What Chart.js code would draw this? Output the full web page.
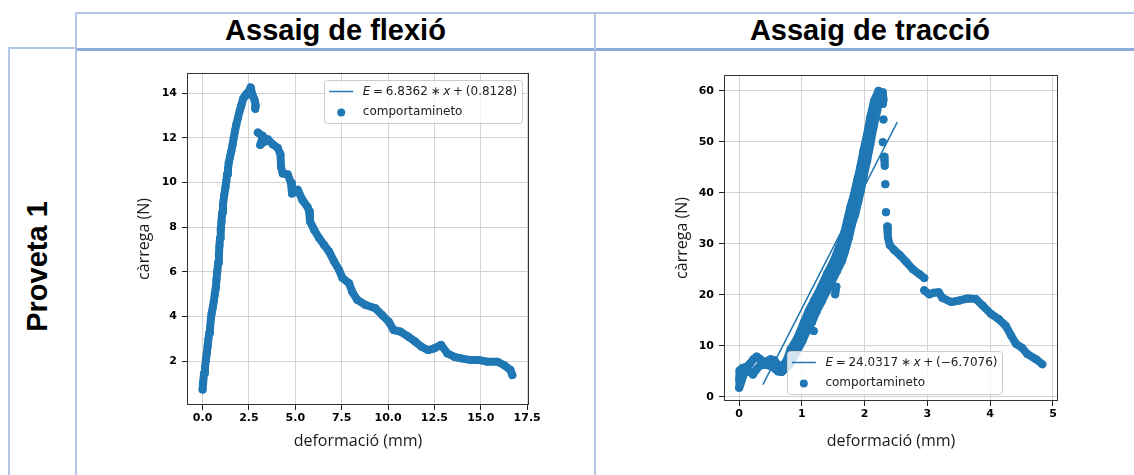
<!DOCTYPE html>
<html>
<head>
<meta charset="utf-8">
<script src="https://cdn.jsdelivr.net/npm/chart.js@4.4.1/dist/chart.umd.min.js"></script>
<style>
  body { margin: 0; width: 1134px; height: 475px; overflow: hidden; background: #fff; position: relative; font-family: "Liberation Sans", Arial, sans-serif; }
  .ln { position: absolute; background: #b4c6e7; }
  .hd { position: absolute; font-weight: bold; font-size: 29px; line-height: 33px; text-align: center; color: #000; white-space: nowrap; }
  canvas { position: absolute; }
</style>
</head>
<body>
<!-- table grid -->
<div class="ln" style="left:75px;top:12px;width:1059px;height:2px"></div>
<div class="ln" style="left:75px;top:48px;width:1059px;height:3px;background:#8eaadb"></div>
<div class="ln" style="left:8px;top:47px;width:68px;height:2px"></div>
<div class="ln" style="left:8px;top:47px;width:2px;height:428px"></div>
<div class="ln" style="left:75px;top:12px;width:2px;height:463px"></div>
<div class="ln" style="left:594px;top:12px;width:2px;height:463px"></div>

<div class="hd" style="left:77px;top:14px;width:517px">Assaig de flexió</div>
<div class="hd" style="left:596px;top:14px;width:548px">Assaig de tracció</div>
<div class="hd" style="left:-63px;top:250px;width:200px;transform:rotate(-90deg)">Proveta 1</div>

<canvas id="flexio" width="440" height="410" style="left:120px;top:60px"></canvas>
<canvas id="traccio" width="440" height="410" style="left:640px;top:60px"></canvas>

<script>
// ---- Assaig de flexió: deformació (mm) / càrrega (N) ----
const flexX = [
  0.00, 0.03, 0.08, 0.13, 0.18, 0.22, 0.27, 0.31, 0.36, 0.40,
  0.45, 0.49, 0.55, 0.61, 0.66, 0.71, 0.75, 0.79, 0.84, 0.88,
  0.91, 0.94, 0.98, 1.02, 1.06, 1.10, 1.16, 1.23, 1.28, 1.32,
  1.37, 1.41, 1.48, 1.55, 1.62, 1.68, 1.75, 1.82, 1.91, 2.00,
  2.09, 2.18, 2.27, 2.36, 2.48, 2.59, 2.72, 2.80, 2.86, 2.84,
  2.90, 2.98, 3.25, 3.11, 3.52, 3.79, 4.05, 4.20, 4.23, 4.32,
  4.59, 4.77, 4.82, 5.13, 5.39, 5.66, 5.75, 5.79, 6.02, 6.29,
  6.55, 6.82, 7.09, 7.36, 7.54, 7.90, 8.07, 8.34, 8.79, 9.32,
  9.68, 10.04, 10.30, 10.66, 11.10, 11.46, 11.80, 12.16, 12.50, 12.86,
  13.20, 13.57, 13.93, 14.46, 14.90, 15.36, 15.90, 16.25, 16.60, 16.70
];
const flexY = [
  0.72, 1.05, 1.45, 1.70, 2.05, 2.30, 2.65, 2.95, 3.25, 3.45,
  3.90, 4.15, 4.40, 4.70, 5.00, 5.27, 5.65, 6.00, 6.40, 6.80,
  7.15, 7.50, 7.90, 8.26, 8.65, 9.00, 9.40, 9.76, 10.05, 10.36,
  10.60, 10.88, 11.15, 11.40, 11.70, 12.00, 12.30, 12.60, 12.90, 13.20,
  13.45, 13.73, 13.85, 13.96, 14.05, 14.25, 13.85, 13.70, 13.45, 13.30,
  null, 12.23, 12.08, 11.68, 11.93, 11.70, 11.55, 11.25, 10.70, 10.40,
  10.36, 9.97, 9.50, 9.67, 9.20, 8.90, 8.70, 8.26, 7.87, 7.50,
  7.20, 6.90, 6.46, 6.08, 5.72, 5.48, 5.10, 4.74, 4.51, 4.36,
  4.06, 3.76, 3.39, 3.32, 3.09, 2.87, 2.64, 2.49, 2.57, 2.72,
  2.34, 2.19, 2.12, 2.04, 2.04, 1.97, 1.97, 1.82, 1.60, 1.37
];
const flexFitX = [0.00, 0.75];
const flexFitY = [0.81, 5.94];
const flexXTicks = [0, 2.5, 5, 7.5, 10, 12.5, 15, 17.5];
const flexYTicks = [2, 4, 6, 8, 10, 12, 14];

// ---- Assaig de tracció ----
const tracX = [
  0.00, 0.00, 0.01, 0.06, 0.12, 0.18, 0.23, 0.28, 0.33, 0.38,
  0.44, 0.50, 0.56, 0.61, 0.66, 0.71, 0.76, 0.82, 0.93, 1.03,
  1.11, 1.19, 1.30, 1.40, 1.51, 1.59, 1.67, 1.72, 1.77, 1.83,
  1.88, 1.93, 1.98, 2.04, 2.09, 2.15, 2.22, 2.26, 2.26, 0.02,
  0.08, 0.15, 0.22, 0.27, 0.34, 0.44, 0.54, 0.62, 0.68, 0.74,
  0.82, 0.90, 1.01, 1.08, 1.16, 1.24, 1.32, 1.40, 1.48, 1.56,
  1.64, 1.69, 1.75, 1.80, 1.85, 1.90, 1.94, 1.98, 2.04, 2.09,
  2.14, 2.20, 2.25, 2.29, 2.30, 2.29, 2.29, 1.19, 1.19, 1.53,
  1.55, 1.55, 2.30, 2.30, 2.29, 2.29, 2.31, 2.32, 2.32, 2.33,
  2.33, 2.34, 2.34, 2.36, 2.37, 2.40, 2.47, 2.56, 2.66, 2.77,
  2.87, 2.95, 2.95, 2.95, 3.03, 3.10, 3.18, 3.24, 3.38, 3.51,
  3.64, 3.77, 3.88, 4.01, 4.14, 4.25, 4.33, 4.41, 4.51, 4.59,
  4.73, 4.83
];
const tracY = [
  1.80, 3.50, 5.20, 5.70, 5.90, 6.60, 7.40, 7.90, 7.50, 6.90,
  7.00, 7.40, 7.20, 6.40, 5.60, 6.30, 7.20, 9.35, 11.60, 14.60,
  16.90, 18.80, 21.40, 24.10, 26.70, 29.30, 31.90, 34.50, 37.10, 39.70,
  42.40, 45.00, 48.20, 51.50, 54.80, 58.00, 60.00, 59.00, null, 2.40,
  4.60, 5.20, 4.40, 5.30, 6.20, 6.30, 5.80, 5.00, 4.90, 5.50,
  6.60, 8.40, 11.00, 12.90, 14.60, 16.90, 18.80, 20.80, 22.70, 24.70,
  26.70, 28.60, 31.20, 33.90, 35.80, 38.40, 40.40, 43.00, 46.30, 49.50,
  52.80, 56.10, 58.70, 59.70, 58.30, 57.40, null, 12.90, null, 20.10,
  21.60, null, 54.40, null, 49.90, null, 47.10, 45.30, null, 41.70,
  null, 36.20, null, 33.40, 31.30, 29.80, 28.80, 27.80, 26.50, 25.00,
  24.10, 23.30, null, 20.90, 20.10, 20.40, 20.50, 19.40, 18.60, 18.90,
  19.30, 19.20, 17.90, 16.30, 15.20, 13.90, 12.10, 10.40, 9.60, 8.40,
  7.40, 6.40
];
const tracFitX = [0.38, 2.52];
const tracFitY = [2.42, 53.85];
const tracXTicks = [0, 1, 2, 3, 4, 5];
const tracYTicks = [0, 10, 20, 30, 40, 50, 60];

const BLUE = '#1f77b4';
const tickFont = { family: '"DejaVu Sans"', size: 11, weight: 'bold' };
const titleFont = { family: '"Open Sans"', size: 16 };

// legend text pieces (mathtext-like), italic parts flagged
const legendCfg = {
  flexio: { corner: 'ne', dx: 7, dy: 7,
    eq: [['E', 1], ['=', 0], ['6.8362', 0], ['\u2217', 0], ['x', 1], ['+', 0], ['(0.8128)', 0]] },
  traccio: { corner: 'sw', dx: 63, dy: 7,
    eq: [['E', 1], ['=', 0], ['24.0317', 0], ['\u2217', 0], ['x', 1], ['+', 0], ['(\u22126.7076)', 0]] }
};

function pts(xs, ys) { return xs.map((x, i) => ({ x: x, y: ys[i] })); }

const framePlugin = {
  id: 'frameLegend',
  afterDraw(chart) {
    const ctx = chart.ctx, a = chart.chartArea;
    ctx.save();
    // full box round the plot, like matplotlib spines
    ctx.strokeStyle = '#333';
    ctx.lineWidth = 1;
    ctx.strokeRect(Math.round(a.left) + 0.5, Math.round(a.top) + 0.5,
      Math.round(a.right - a.left) - 1, Math.round(a.bottom - a.top) - 1);

    const cfg = legendCfg[chart.canvas.id];
    const fs = 12, gap = 2.7;
    let w = 0;
    cfg.eq.forEach(p => {
      ctx.font = (p[1] ? 'italic ' : '') + fs + 'px "DejaVu Sans"';
      w += ctx.measureText(p[0]).width;
    });
    w += gap * (cfg.eq.length - 1);
    const bw = 43.2 + w, bh = 43;
    const bx = cfg.corner === 'ne' ? a.right - cfg.dx - bw : a.left + cfg.dx;
    const by = cfg.corner === 'ne' ? a.top + cfg.dy : a.bottom - cfg.dy - bh;

    ctx.beginPath();
    ctx.roundRect(Math.round(bx) + 0.5, Math.round(by) + 0.5, Math.round(bw), Math.round(bh), 3);
    ctx.fillStyle = 'rgba(255,255,255,0.8)';
    ctx.fill();
    ctx.strokeStyle = '#cccccc';
    ctx.stroke();

    ctx.strokeStyle = BLUE;
    ctx.lineWidth = 1.5;
    ctx.beginPath();
    ctx.moveTo(bx + 4.8, by + 11.5);
    ctx.lineTo(bx + 28.8, by + 11.5);
    ctx.stroke();
    ctx.fillStyle = BLUE;
    ctx.beginPath();
    ctx.arc(bx + 16.8, by + 32.5, 4, 0, Math.PI * 2);
    ctx.fill();

    ctx.fillStyle = '#222';
    ctx.textBaseline = 'middle';
    ctx.textAlign = 'left';
    let tx = bx + 38.4;
    cfg.eq.forEach(p => {
      ctx.font = (p[1] ? 'italic ' : '') + fs + 'px "DejaVu Sans"';
      ctx.fillText(p[0], tx, by + 12);
      tx += ctx.measureText(p[0]).width + gap;
    });
    ctx.font = fs + 'px "DejaVu Sans"';
    ctx.fillText('comportamineto', bx + 38.4, by + 32);
    ctx.restore();
  }
};

function makeChart(id, o) {
  return new Chart(document.getElementById(id), {
    type: 'scatter',
    data: {
      datasets: [
        { label: 'fit', data: pts(o.fitX, o.fitY), showLine: true, borderColor: BLUE, borderWidth: 1.5,
          pointRadius: 0, fill: false },
        { label: 'comportamineto', data: pts(o.xs, o.ys), showLine: true, spanGaps: false,
          borderColor: BLUE, borderWidth: 8, borderCapStyle: 'round', borderJoinStyle: 'round',
          pointRadius: 4, pointHoverRadius: 4, pointBorderWidth: 0, pointBackgroundColor: BLUE, fill: false }
      ]
    },
    options: {
      responsive: false, animation: false, devicePixelRatio: 1,
      layout: { padding: o.pad },
      plugins: { legend: { display: false }, tooltip: { enabled: false } },
      scales: {
        x: {
          type: 'linear', min: o.xMin, max: o.xMax,
          afterBuildTicks: s => { s.ticks = o.xTicks.map(v => ({ value: v })); },
          afterFit: s => { s.height = o.xH; },
          grid: { color: '#d3d3d3', tickColor: '#222', tickLength: 5 },
          border: { display: false },
          ticks: { font: tickFont, color: '#000', padding: 2, maxRotation: 0, autoSkip: false, callback: o.xFmt },
          title: { display: true, text: 'deformació (mm)', font: titleFont, color: '#1a1a1a', padding: { top: 0, bottom: 18.7 } }
        },
        y: {
          type: 'linear', min: o.yMin, max: o.yMax,
          afterBuildTicks: s => { s.ticks = o.yTicks.map(v => ({ value: v })); },
          afterFit: s => { s.width = o.yW; },
          grid: { color: '#d3d3d3', tickColor: '#222', tickLength: 5 },
          border: { display: false },
          ticks: { font: tickFont, color: '#000', padding: 5, autoSkip: false, callback: v => String(v) },
          title: { display: true, text: 'càrrega (N)', font: titleFont, color: '#1a1a1a', padding: { top: o.yTitlePad, bottom: 0 } }
        }
      }
    },
    plugins: [framePlugin]
  });
}

makeChart('flexio', {
  xs: flexX, ys: flexY, fitX: flexFitX, fitY: flexFitY,
  xMin: -0.84, xMax: 17.6, yMin: 0.03, yMax: 14.9,
  xTicks: flexXTicks, yTicks: flexYTicks, xFmt: v => v.toFixed(1),
  pad: { left: 0, right: 31, top: 13, bottom: 0 }, xH: 65, yW: 67, yTitlePad: 14.4
});
makeChart('traccio', {
  xs: tracX, ys: tracY, fitX: tracFitX, fitY: tracFitY,
  xMin: -0.24, xMax: 5.08, yMin: -0.8, yMax: 63.1,
  xTicks: tracXTicks, yTicks: tracYTicks, xFmt: v => String(v),
  pad: { left: 0, right: 22, top: 15, bottom: 0 }, xH: 69, yW: 84, yTitlePad: 32.9
});
</script>
</body>
</html>
